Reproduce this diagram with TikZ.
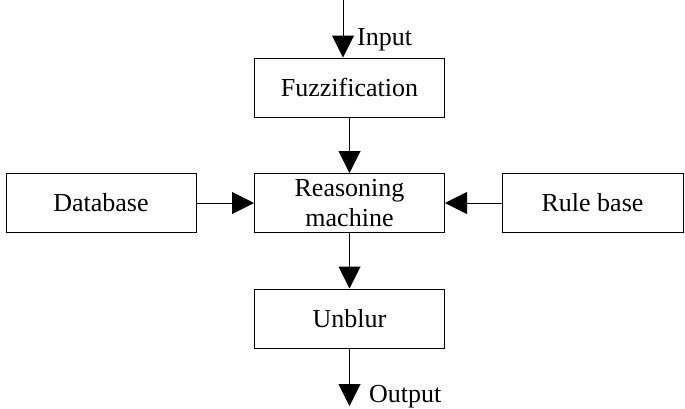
\documentclass[tikz,border=0pt]{standalone}
\usepackage{fontspec}
\setmainfont{Liberation Serif}
\usetikzlibrary{arrows.meta}
\begin{document}
\begin{tikzpicture}[x=1pt,y=-1pt,
  blk/.style={draw, line width=1pt, minimum width=190pt, minimum height=59pt,
    inner sep=0pt, align=center, font=\fontsize{26}{30}\selectfont},
  lbl/.style={font=\fontsize{26}{30}\selectfont, inner sep=0pt, anchor=west},
  flow/.style={draw, line width=1pt, -{Triangle[length=22pt,width=22pt]}}]
\useasboundingbox (0,0) rectangle (685,408);
\node[blk] (fuzz) at (349.5,87.5) {Fuzzification};
\node[blk] (reason) at (349.5,203) {Reasoning\\machine};
\node[blk] (db) at (101,203) {Database};
\node[blk, minimum width=181pt] (rule) at (592.5,203) {Rule base};
\node[blk] (unblur) at (349.5,318.5) {Unblur};
\coordinate (in) at (343,0);
\coordinate (out) at (349.5,406);
\path[flow] (in) -- (in |- fuzz.north);
\path[flow] (fuzz) -- (reason);
\path[flow] (db) -- (reason);
\path[flow] (rule) -- (reason);
\path[flow] (reason) -- (unblur);
\path[flow] (unblur) -- (out);
\node[lbl] (inlbl) at (357,40) {Input};
\node[lbl] (outlbl) at (369,397) {Output};
\end{tikzpicture}
\end{document}
